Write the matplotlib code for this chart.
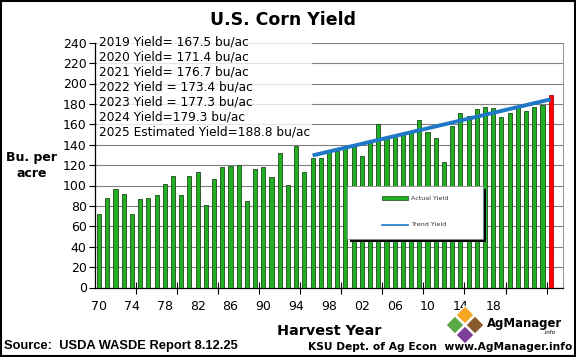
import numpy as np
import matplotlib
matplotlib.use("Agg")
import matplotlib.pyplot as plt
from matplotlib.patches import Rectangle, Polygon
from matplotlib.lines import Line2D

# US corn yield, bu/ac, harvest years 1970-2025 (2025 = estimate)
years = list(range(1970, 2026))
yields = [72.4, 88.1, 97.0, 91.3, 71.9, 86.4, 88.0, 90.8, 101.0, 109.5,
          91.0, 108.9, 113.2, 81.1, 106.7, 118.0, 119.4, 119.8, 84.6, 116.3,
          118.5, 108.6, 131.5, 100.7, 138.6, 113.5, 127.1, 126.7, 134.4, 133.8,
          136.9, 138.2, 129.3, 142.2, 160.3, 147.9, 149.1, 150.7, 153.3, 164.4,
          152.6, 146.8, 123.1, 158.1, 171.0, 168.4, 174.6, 176.6, 176.4, 167.5,
          171.4, 176.7, 173.4, 177.3, 179.3, 188.8]
trend_years = [1996, 2025]
trend_values = [129.5, 184.5]
tick_years = list(range(1970, 2019, 4))
tick_labels = ['70', '74', '78', '82', '86', '90', '94', '98', '02', '06', '10', '14', '18']
notes = ["2019 Yield= 167.5 bu/ac",
         "2020 Yield= 171.4 bu/ac",
         "2021 Yield= 176.7 bu/ac",
         "2022 Yield = 173.4 bu/ac",
         "2023 Yield = 177.3 bu/ac",
         "2024 Yield=179.3 bu/ac",
         "2025 Estimated Yield=188.8 bu/ac"]

W, H = 576, 357


def fx(px):
    return px / W


def fy(py):
    return 1 - py / H


fig = plt.figure(figsize=(W / 100, H / 100), dpi=100)
ax = fig.add_axes([fx(95), fy(287.5), fx(563) - fx(95), fy(42.7) - fy(287.5)])

idx = np.arange(len(years))
colors = ['#22b022'] * (len(years) - 1) + ['#ff0000']
edges = ['#1b4a1b'] * (len(years) - 1) + ['#b00000']
ax.bar(idx, yields, width=0.5, color=colors, edgecolor=edges, linewidth=0.6, zorder=3)

t_idx = [years.index(y) for y in trend_years]
ax.plot(t_idx, trend_values, color='#1f78c8', linewidth=2.8, solid_capstyle='butt', zorder=4)

ax.set_xlim(-0.5, len(years) + 0.5)
ax.set_ylim(0, 240)
ax.set_yticks(range(0, 241, 20))
ax.tick_params(axis='y', direction='out', length=4, width=0.8, labelsize=9, pad=2)
ax.set_xticks([years.index(y) for y in tick_years])
ax.set_xticklabels(tick_labels)
ax.tick_params(axis='x', which='major', length=0, labelsize=9, pad=9)
ax.set_xticks(np.arange(4.5, len(years), 5), minor=True)
ax.tick_params(axis='x', which='minor', direction='inout', length=8, width=0.8)

ax.grid(axis='y', color='#808080', linewidth=0.8, zorder=0)
ax.set_axisbelow(True)
ax.spines['top'].set_visible(False)
ax.spines['right'].set_color('#999999')
ax.spines['left'].set_linewidth(0.9)
ax.spines['bottom'].set_linewidth(0.9)

# yield notes box
fig.text(fx(99), fy(35.5), "\n".join(notes), fontsize=8.7, va='top', ha='left',
         linespacing=1.2, zorder=5,
         bbox=dict(facecolor='white', alpha=0.8, edgecolor='none', pad=1.5))

# titles and labels
fig.text(fx(283), fy(20), "U.S. Corn Yield", fontsize=12.5, fontweight='bold',
         ha='center', va='center')
fig.text(fx(32), fy(158), "Bu. per", fontsize=9, fontweight='bold', ha='center', va='center')
fig.text(fx(32), fy(173), "acre", fontsize=9, fontweight='bold', ha='center', va='center')
fig.text(fx(329), fy(331), "Harvest Year", fontsize=10.4, fontweight='bold',
         ha='center', va='center')
fig.text(fx(4), fy(346), "Source:  USDA WASDE Report 8.12.25", fontsize=9.3,
         family='Liberation Sans', fontweight='bold', ha='left', va='center')
fig.text(fx(572), fy(347), "KSU Dept. of Ag Econ  www.AgManager.info", fontsize=7.7,
         fontweight='bold', ha='right', va='center')

# legend box drawn by hand to match the wide, sparse original
fig.patches.append(Rectangle((fx(350), fy(242)), fx(136), fy(0) - fy(53),
                             transform=fig.transFigure, facecolor='black',
                             edgecolor='none', zorder=5))
fig.patches.append(Rectangle((fx(347), fy(239)), fx(136), fy(0) - fy(53),
                             transform=fig.transFigure, facecolor='white',
                             edgecolor='#888888', linewidth=0.5, zorder=6))
fig.patches.append(Rectangle((fx(382), fy(200)), fx(26), fy(0) - fy(4),
                             transform=fig.transFigure, facecolor='#22b022',
                             edgecolor='#1b4a1b', linewidth=0.5, zorder=7))
fig.lines.append(Line2D([fx(382), fx(408)], [fy(225), fy(225)], transform=fig.transFigure,
                        color='#1f78c8', linewidth=1.2, zorder=7))
fig.text(fx(411), fy(198), "Actual Yield", fontsize=4.6, color='#333333',
         ha='left', va='center', zorder=8)
fig.text(fx(411), fy(225), "Trend Yield", fontsize=4.6, color='#333333',
         ha='left', va='center', zorder=8)

# AgManager logo
d = 9
for (cx, cy), col in [((465, 315), '#f5a623'), ((455, 325), '#5aa846'),
                      ((475, 325), '#8b5a2b'), ((465, 335), '#7d3f98')]:
    pts = [(fx(cx), fy(cy - d)), (fx(cx + d), fy(cy)), (fx(cx), fy(cy + d)), (fx(cx - d), fy(cy))]
    fig.patches.append(Polygon(pts, closed=True, transform=fig.transFigure,
                               facecolor=col, edgecolor='white', linewidth=0.8))
fig.text(fx(487), fy(324), "AgManager", fontsize=8.4, fontweight='bold',
         ha='left', va='center')
fig.text(fx(556), fy(332), ".info", fontsize=4, ha='right', va='center')

# outer frame
fig.patches.append(Rectangle((0.002, 0.003), 0.996, 0.994, transform=fig.transFigure,
                             facecolor='none', edgecolor='black', linewidth=1.5))

fig.savefig("out.png", dpi=100)
